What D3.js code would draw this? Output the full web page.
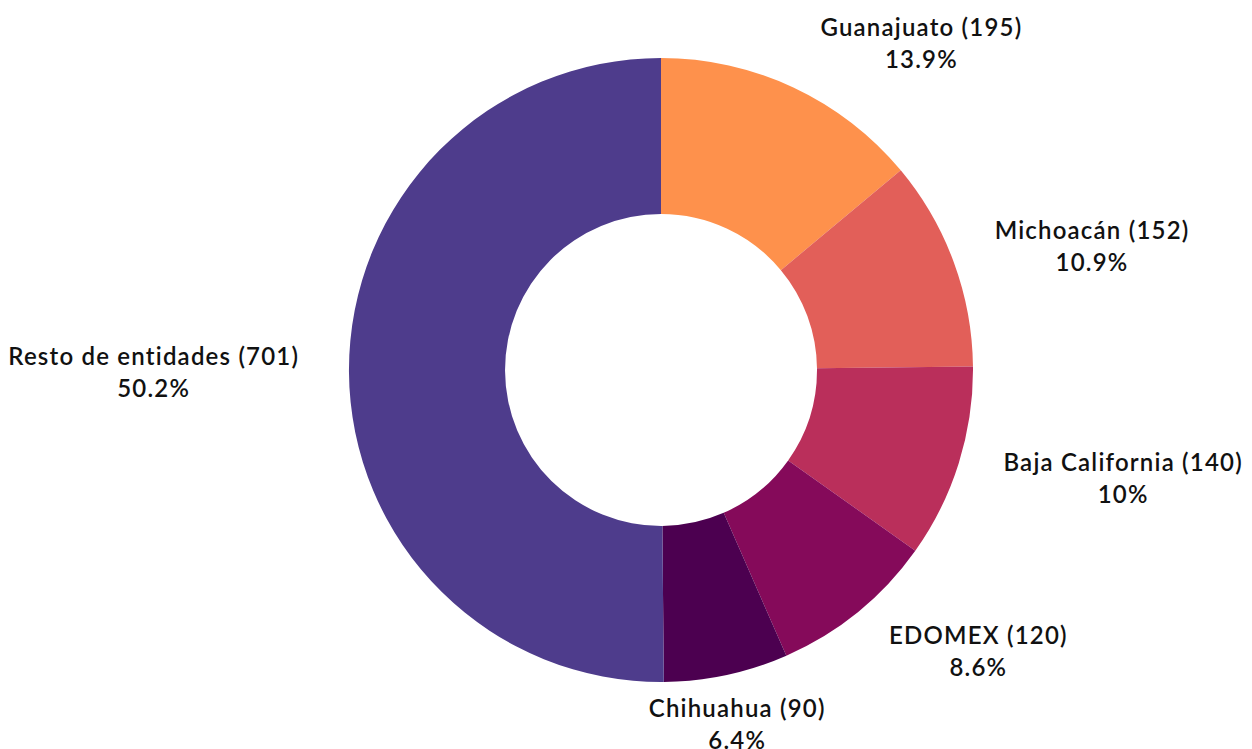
<!DOCTYPE html>
<html>
<head>
<meta charset="utf-8">
<script src="https://cdn.jsdelivr.net/npm/d3@7"></script>
<style>
  html, body { margin: 0; padding: 0; background: #fff; }
  svg { display: block; }
  .lbl { font-family: Lato, "Open Sans", sans-serif; font-weight: 600; font-size: 24px; letter-spacing: 1.2px; fill: #111; }
</style>
</head>
<body>
<svg id="chart" width="1252" height="749"></svg>
<script>
  var entidades = ['Guanajuato', 'Michoacán', 'Baja California', 'EDOMEX', 'Chihuahua', 'Resto de entidades'];
  var casos = [195, 152, 140, 120, 90, 701];
  var porcentajes = ['13.9%', '10.9%', '10%', '8.6%', '6.4%', '50.2%'];
  var colores = ['#fe914c', '#e25f59', '#ba2f5b', '#850a5a', '#4c0050', '#4e3c8c'];

  var cx = 661;
  var cy = 370;
  var outer = 312;
  var inner = 156;
  var labelR = 340;

  var data = entidades.map(function(d, i) {
    return { name: d, value: casos[i], pct: porcentajes[i], color: colores[i] };
  });

  var svg = d3.select('#chart');
  var g = svg.append('g')
    .attr('transform', 'translate(' + cx + ',' + cy + ')');

  var pie = d3.pie()
    .sort(null)
    .value(function(d) { return d.value; });

  var arc = d3.arc()
    .innerRadius(inner)
    .outerRadius(outer);

  var arcs = pie(data);

  g.selectAll('path')
    .data(arcs)
    .enter()
    .append('path')
    .attr('d', arc)
    .attr('fill', function(d) { return d.data.color; });

  var labels = g.selectAll('text')
    .data(arcs)
    .enter()
    .append('text')
    .attr('class', 'lbl')
    .attr('text-anchor', 'middle');

  labels.append('tspan')
    .attr('x', 0)
    .attr('dy', 0)
    .text(function(d) { return d.data.name + ' (' + d.data.value + ')'; });

  labels.append('tspan')
    .attr('x', 0)
    .attr('dy', 32)
    .text(function(d) { return d.data.pct; });

  // push each label out along the mid angle, then shift the box away from the ring
  labels.each(function(d) {
    var node = d3.select(this);
    var bb = this.getBBox();
    var a = (d.startAngle + d.endAngle) / 2;
    var s = Math.sin(a);
    var c = Math.cos(a);
    var px = labelR * s;
    var py = -labelR * c;
    var fx = Math.max(0, Math.min(1, (Math.abs(s) - 0.2) / 0.2)) * 1.15;
    var fy = 0.7 * Math.abs(c);
    var ox = (s < 0 ? -1 : 1) * fx * bb.width / 2;
    var oy = (c > 0 ? -1 : 1) * fy * bb.height / 2;
    var tx = px + ox - (bb.x + bb.width / 2);
    var ty = py + oy - (bb.y + bb.height / 2);
    node.attr('transform', 'translate(' + tx + ',' + ty + ')');
  });
</script>
</body>
</html>
